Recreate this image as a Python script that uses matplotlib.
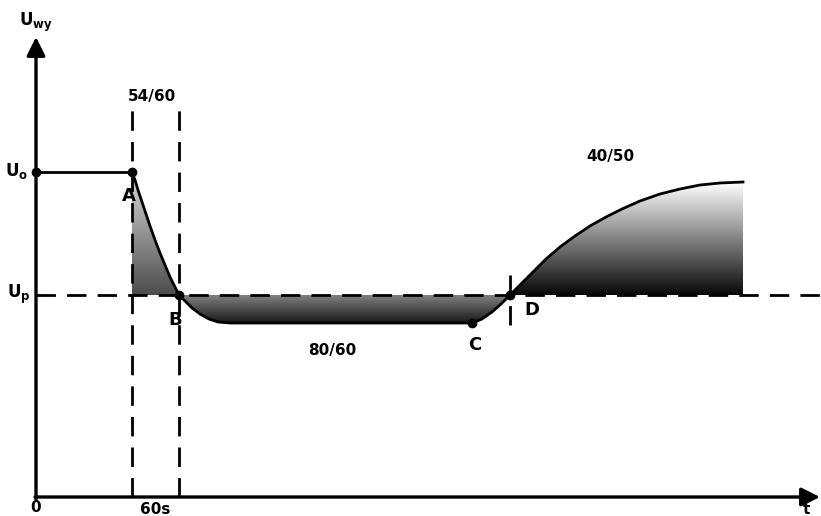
import numpy as np
import matplotlib
matplotlib.use("Agg")
import matplotlib.pyplot as plt

plt.rcParams["mathtext.fontset"] = "dejavusans"

# levels of the output voltage (schematic units, origin at the axes corner)
U_O = 325
U_P = 202

# marked points on the curve
point_names = ["A", "B", "C", "D"]
point_t = [96, 143, 436, 474]
point_u = [325, 202, 174, 202]

# curve pieces
fall_t = [96, 99, 102, 106, 110, 114, 119, 124, 129, 134, 139, 143]
fall_u = [325, 317, 307, 295, 283, 271, 257, 244, 232, 220, 210, 202]
dip_t = [143, 149, 156, 164, 173, 182, 194, 436]
dip_u = [202, 196, 189, 183, 178, 175, 174, 174]
climb_t = [436, 446, 456, 465, 474]
climb_u = [174, 178, 185, 193, 202]
rise_t = [474, 484, 497, 510, 524, 539, 554, 570, 586, 604, 624, 644, 664, 684, 707]
rise_u = [202, 212, 225, 238, 250, 261, 271, 280, 288, 296, 303, 308, 312, 314, 315]

phase_labels = ["54/60", "80/60", "40/50"]
phase_t = [116, 296, 574]
phase_u = [400, 147, 340]

fig = plt.figure(figsize=(8.21, 5.16), dpi=100)
ax = fig.add_axes([0, 0, 1, 1])
ax.set_axis_off()


def gradient_fill(ts, us, base, top_grey, bottom_grey):
    """Fill between curve and base with a vertical grey gradient."""
    poly_t = list(ts) + [ts[-1], ts[0]]
    poly_u = list(us) + [base, base]
    patch = ax.fill(poly_t, poly_u, facecolor="none", edgecolor="none")[0]
    lo, hi = min(poly_u), max(poly_u)
    grad = np.linspace(top_grey, bottom_grey, 200).reshape(-1, 1)
    im = ax.imshow(grad, extent=[min(poly_t), max(poly_t), lo, hi],
                   origin="upper", cmap="gray", vmin=0, vmax=1,
                   aspect="auto", zorder=1)
    im.set_clip_path(patch)


gradient_fill(fall_t, fall_u, U_P, 0.85, 0.30)
gradient_fill(dip_t + climb_t[1:], dip_u + climb_u[1:], U_P, 0.50, 0.10)
gradient_fill(rise_t, rise_u, U_P, 1.0, 0.03)

# dashed guide lines
dash = dict(color="black", lw=2, ls=(0, (7, 4)), zorder=2)
ax.plot([0, 790], [U_P, U_P], **dash)
ax.plot([96, 96], [0, 392], **dash)
ax.plot([143, 143], [0, 392], **dash)
ax.plot([474, 474], [172, 232], **dash)

# output signal
line = dict(color="black", lw=2, zorder=3, solid_joinstyle="round")
ax.plot([0, 96], [U_O, U_O], **line)
ax.plot(fall_t, fall_u, **line)
ax.plot(dip_t, dip_u, **line)
ax.plot(climb_t, climb_u, **line)
ax.plot(rise_t, rise_u, **line)
ax.plot([0] + point_t, [U_O] + point_u, "o", color="black", ms=6, zorder=4)

# axes with arrows
ax.annotate("", xy=(0, 460), xytext=(0, -2),
            arrowprops=dict(arrowstyle="-|>", lw=2.4, color="black",
                            mutation_scale=28, shrinkA=0, shrinkB=0))
ax.annotate("", xy=(784, 0), xytext=(-1, 0),
            arrowprops=dict(arrowstyle="-|>", lw=2.4, color="black",
                            mutation_scale=28, shrinkA=0, shrinkB=0))

txt = dict(fontsize=11, fontweight="bold", ha="center", va="center", color="black")
letter_dt = [-3, -4, 3, 22]
letter_du = [-24, -25, -22, -15]
for name, t, u, dt, du in zip(point_names, point_t, point_u, letter_dt, letter_du):
    ax.text(t + dt, u + du, name, **dict(txt, fontsize=13))
for lab, t, u in zip(phase_labels, phase_t, phase_u):
    ax.text(t, u, lab, **txt)

ax.text(0, 475, r"$\mathbf{U_{wy}}$", **dict(txt, fontsize=12))
ax.text(-19, U_O + 1, r"$\mathbf{U_{o}}$", **dict(txt, fontsize=12))
ax.text(-17, U_P + 1, r"$\mathbf{U_{p}}$", **dict(txt, fontsize=12))
ax.text(0, -10, "0", **txt)
ax.text(119, -12, "60s", **txt)
ax.text(770, -12, "t", **txt)

ax.set_xlim(-36, 785)
ax.set_ylim(-19, 497)

fig.savefig("out.png", dpi=100)
